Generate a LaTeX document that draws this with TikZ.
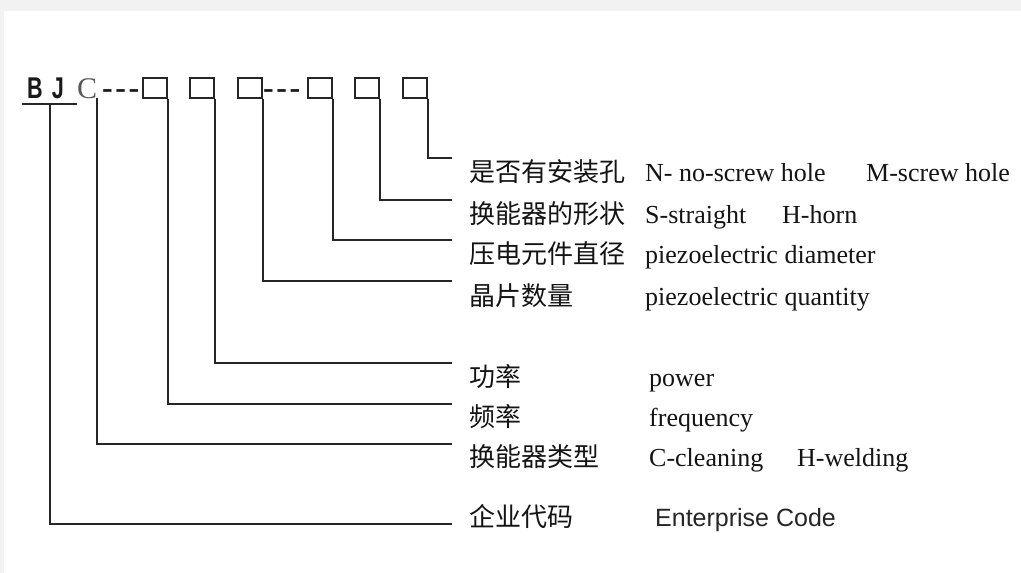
\documentclass[tikz,border=0pt]{standalone}
\usepackage{graphicx}
\usepackage{fontspec}
\setmainfont{Liberation Serif}
\newfontfamily\cjk{Noto Sans CJK SC}
\newfontfamily\arialf{Liberation Sans}
\begin{document}
\begin{tikzpicture}[x=1pt,y=-1pt,
  zh/.style={font=\cjk\fontsize{26}{30}\selectfont, anchor=base west, inner sep=0pt, text=black!92},
  en/.style={font=\fontsize{26}{30}\selectfont, anchor=base west, inner sep=0pt, text=black!92},
  ensans/.style={font=\arialf\fontsize{25}{30}\selectfont, anchor=base west, inner sep=0pt, text=black!85},
  codebox/.style={draw=black!85, line width=1.6pt, minimum width=24pt, minimum height=20pt, inner sep=0pt},
  dashtxt/.style={anchor=base west, inner sep=0pt, text=black!90, font=\bfseries\fontsize{32}{32}\selectfont},
  conn/.style={draw=black!85, line width=1.8pt}]
\useasboundingbox (0,0) rectangle (1021,573);
\fill[black!5] (0,0) rectangle (1021,573);
\fill[white] (4,11) rectangle (1021,573);

% code line
\node[anchor=base west, inner sep=0pt, text=black!90,
      font=\arialf\bfseries\fontsize{30}{30}\selectfont] (bj) at (27,98)
      {\scalebox{0.72}[1]{B}\hspace{9pt}\scalebox{0.72}[1]{J}};
\coordinate (ul1) at (22,104);
\coordinate (ul2) at (77,104);
\coordinate (ulm) at (50,104);
\draw[conn, line width=2.6pt] (ul1) -- (ul2);
\node[anchor=base west, inner sep=0pt, text=black!65, font=\fontsize{30}{30}\selectfont] (c) at (77,98) {C};
\node[dashtxt] (d1) at (102,98) {-\kern2.5pt-\kern2.5pt-};
\node[codebox] (b1) at (155,88) {};
\node[codebox] (b2) at (202,88) {};
\node[codebox] (b3) at (250,88) {};
\node[dashtxt] (d2) at (263,98) {-\kern2.5pt-\kern2.5pt-};
\node[codebox] (b4) at (320,88) {};
\node[codebox] (b5) at (367,88) {};
\node[codebox] (b6) at (415,88) {};
\coordinate (cb) at (97,98);

% line ends
\coordinate (e1) at (452,158);
\coordinate (e2) at (452,200);
\coordinate (e3) at (452,240);
\coordinate (e4) at (452,281);
\coordinate (e5) at (452,363);
\coordinate (e6) at (452,404);
\coordinate (e7) at (452,444);
\coordinate (e8) at (452,524);

\draw[conn] (b6.south east) |- (e1);
\draw[conn] (b5.south east) |- (e2);
\draw[conn] (b4.south east) |- (e3);
\draw[conn] (b3.south east) |- (e4);
\draw[conn] (b2.south east) |- (e5);
\draw[conn] (b1.south east) |- (e6);
\draw[conn] (cb) |- (e7);
\draw[conn] (ulm) |- (e8);

% labels
\node[zh] (z1) at (469,181) {是否有安装孔};
\node[en] (n1a) at (645,181) {N- no-screw hole};
\node[en] (n1b) at (866,181) {M-screw hole};
\node[zh] (z2) at (469,223) {换能器的形状};
\node[en] (n2a) at (645,223) {S-straight};
\node[en] (n2b) at (782,223) {H-horn};
\node[zh] (z3) at (469,263) {压电元件直径};
\node[en] (n3) at (645,263) {piezoelectric diameter};
\node[zh] (z4) at (469,305) {晶片数量};
\node[en] (n4) at (645,305) {piezoelectric quantity};
\node[zh] (z5) at (469,386) {功率};
\node[en] (n5) at (649,386) {power};
\node[zh] (z6) at (469,426) {频率};
\node[en] (n6) at (649,426) {frequency};
\node[zh] (z7) at (469,466) {换能器类型};
\node[en] (n7a) at (649,466) {C-cleaning};
\node[en] (n7b) at (797,466) {H-welding};
\node[zh] (z8) at (469,526) {企业代码};
\node[ensans] (n8) at (655,526) {Enterprise Code};
\end{tikzpicture}
\end{document}
